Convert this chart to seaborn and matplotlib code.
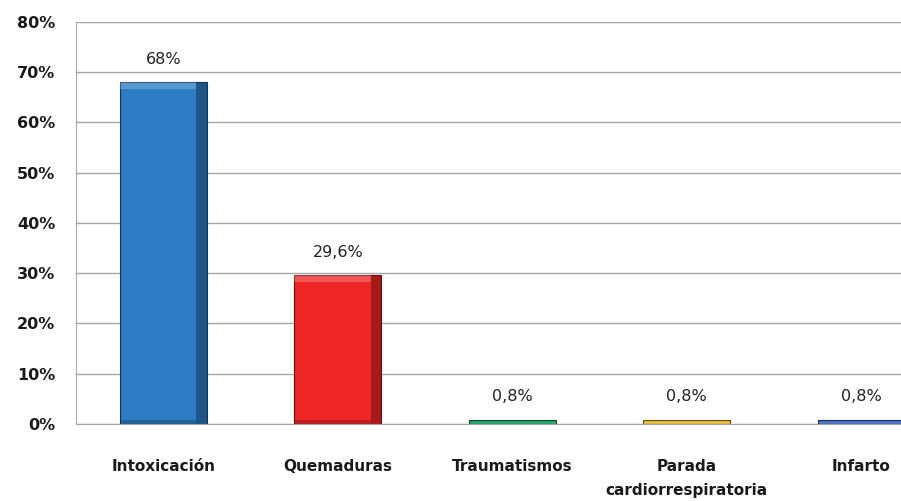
import matplotlib
matplotlib.use("Agg")
import matplotlib.pyplot as plt
import matplotlib.patches as mpatches
import numpy as np
import pandas as pd
import seaborn as sns

# datos
causas = ["Intoxicación", "Quemaduras", "Traumatismos",
          "Parada\ncardiorrespiratoria", "Infarto"]
porcentajes = [68, 29.6, 0.8, 0.8, 0.8]
etiquetas = ["68%", "29,6%", "0,8%", "0,8%", "0,8%"]
colores = ["#2E7CC4", "#EE2626", "#25A870", "#E8BE3A", "#4F74C8"]
ticks_y = [0, 10, 20, 30, 40, 50, 60, 70, 80]

df = pd.DataFrame({"Causa": causas, "Porcentaje": porcentajes})

sns.set_style("white")
plt.rcParams["font.family"] = ["DejaVu Sans"]

fig = plt.figure(figsize=(9.01, 5.01), dpi=100)
ax = fig.add_axes([0.0844, 0.1537, 0.9156, 0.8027])

sns.barplot(data=df, x="Causa", y="Porcentaje", hue="Causa", palette=colores,
            width=0.5, legend=False, ax=ax, saturation=1)

# efecto de relieve simple sobre cada barra
for p, c in zip(ax.patches, colores):
    x0, w, h = p.get_x(), p.get_width(), p.get_height()
    oscuro = tuple(v * 0.4 for v in matplotlib.colors.to_rgb(c))
    p.set_edgecolor(oscuro)
    p.set_linewidth(0.8)
    z = p.get_zorder() + 0.1
    if h > 3:
        ax.add_patch(mpatches.Rectangle((x0 + w * 0.88, 0), w * 0.12, h,
                                        color=oscuro, alpha=0.5, lw=0, zorder=z))
        ax.add_patch(mpatches.Rectangle((x0, h - 1.3), w * 0.88, 1.3,
                                        color="white", alpha=0.22, lw=0, zorder=z))
        ax.add_patch(mpatches.Rectangle((x0, 0), w * 0.88, 0.8,
                                        color=oscuro, alpha=0.35, lw=0, zorder=z))

for i, (v, t) in enumerate(zip(porcentajes, etiquetas)):
    ax.text(i, v + 4.6, t, ha="center", va="center", fontsize=11.5, color="#222222")

ax.set_ylim(0, 80)
ax.set_yticks(ticks_y)
ax.set_yticklabels([f"{t}%" for t in ticks_y], fontsize=11.5, fontweight="bold", color="#1a1a1a")
ax.yaxis.grid(True, color="#A6A6A6", linewidth=1)
ax.set_axisbelow(True)

ax.set_xticks(range(len(causas)))
ax.set_xticklabels(causas, fontsize=11, fontweight="bold", color="#1a1a1a", linespacing=1.75)
ax.tick_params(axis="x", length=0, pad=25)
ax.set_xticks(np.arange(-0.5, len(causas), 1), minor=True)
ax.tick_params(axis="x", which="minor", length=6, color="#A6A6A6", width=1)
ax.tick_params(axis="y", length=8, color="#A6A6A6", width=1, pad=7)
ax.set_xlim(-0.5, 4.228)

ax.set_xlabel("")
ax.set_ylabel("")
for s in ["top", "right"]:
    ax.spines[s].set_visible(False)
ax.spines["left"].set_color("#A6A6A6")
ax.spines["bottom"].set_color("#A6A6A6")

fig.savefig("out.png", dpi=100)
